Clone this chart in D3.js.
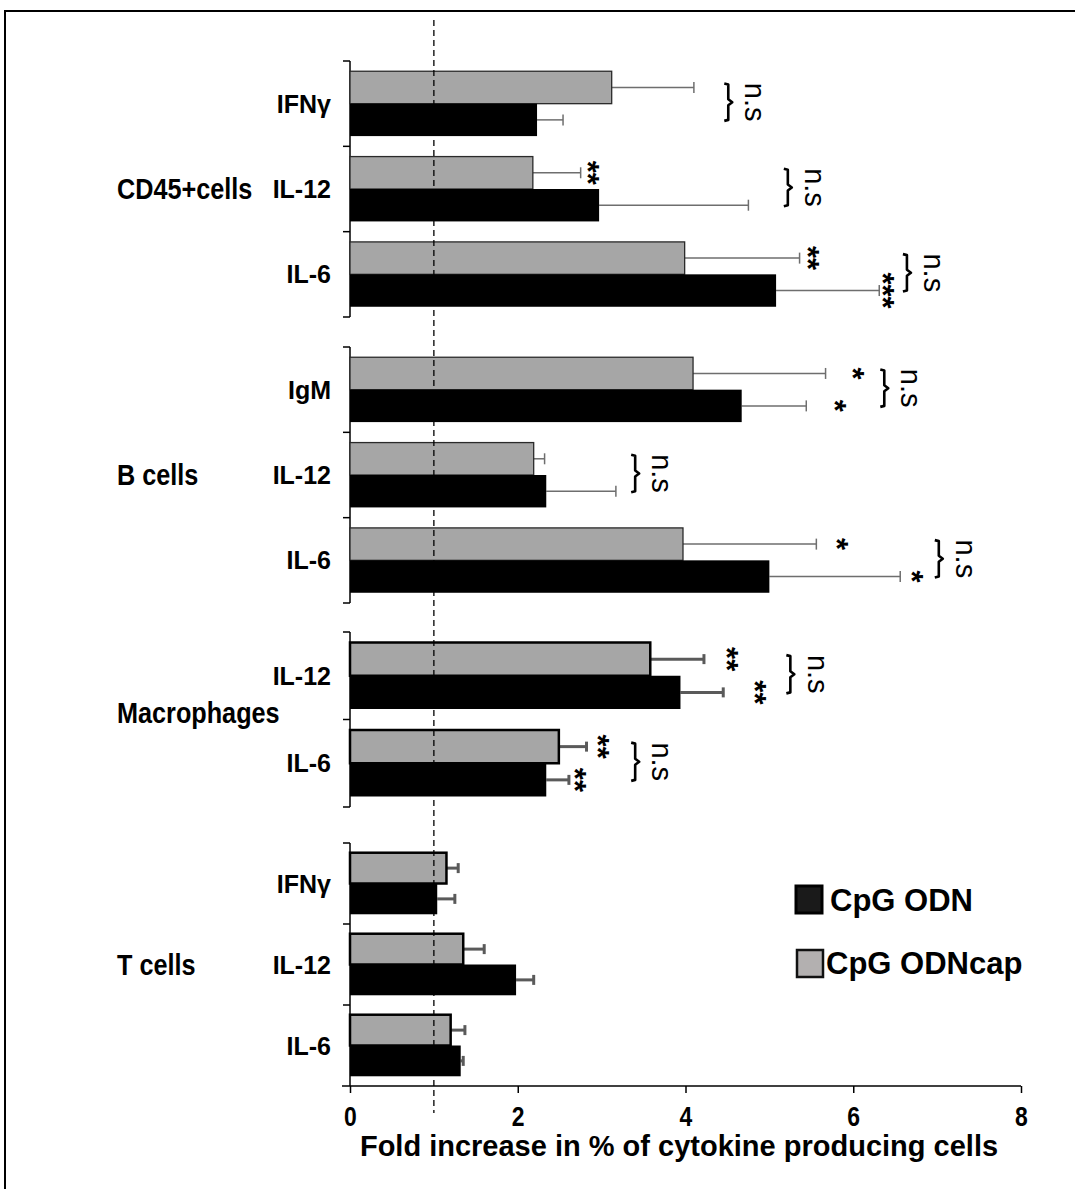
<!DOCTYPE html>
<html>
<head>
<meta charset="utf-8">
<script src="https://cdn.jsdelivr.net/npm/d3@7"></script>
<style>
  body { margin: 0; background: #fff; }
  svg { display: block; }
  text { font-family: "Liberation Sans", Arial, sans-serif; }
</style>
</head>
<body>
<svg id="chart" width="1075" height="1189"></svg>
<script>
// Cell populations and the cytokines measured in each
const groups = ["CD45+cells", "B cells", "Macrophages", "T cells"];
const cytokines = [
  ["IFNγ", "IL-12", "IL-6"],
  ["IgM", "IL-12", "IL-6"],
  ["IL-12", "IL-6"],
  ["IFNγ", "IL-12", "IL-6"]
];

// Fold increase, CpG ODN (black bars) and its error
const odn    = [[2.23, 2.97, 5.08], [4.67, 2.34, 5.00], [3.94, 2.34], [1.04, 1.98, 1.32]];
const odnErr = [[0.31, 1.78, 1.23], [0.77, 0.83, 1.56], [0.51, 0.27], [0.21, 0.21, 0.03]];

// Fold increase, CpG ODNcap (grey bars) and its error
const odnCap    = [[3.12, 2.18, 3.99], [4.09, 2.19, 3.97], [3.58, 2.49], [1.15, 1.35, 1.20]];
const odnCapErr = [[0.98, 0.57, 1.37], [1.58, 0.13, 1.59], [0.64, 0.33], [0.14, 0.25, 0.17]];

const xTicks = [0, 2, 4, 6, 8];
const seriesNames = ["CpG ODN", "CpG ODNcap"];

// Significance stars: [group, cytokine, series ("cap"/"odn"), label, position in fold units]
const stars = [
  [0, 1, "cap", "**", 2.92],
  [0, 2, "cap", "**", 5.54],
  [0, 2, "odn", "***", 6.44],
  [1, 0, "cap", "*", 6.08],
  [1, 0, "odn", "*", 5.87],
  [1, 2, "cap", "*", 5.89],
  [1, 2, "odn", "*", 6.78],
  [2, 0, "cap", "**", 4.58],
  [2, 0, "odn", "**", 4.91],
  [2, 1, "cap", "**", 3.04],
  [2, 1, "odn", "**", 2.77]
];

// ODN vs ODNcap comparisons: [group, cytokine, brace position in fold units]
const comparisons = [
  [0, 0, 4.51], [0, 1, 5.22], [0, 2, 6.64],
  [1, 0, 6.37], [1, 1, 3.40], [1, 2, 7.02],
  [2, 0, 5.25], [2, 1, 3.40]
];
const comparisonLabel = "n.s";

// ---- layout ----
const svg = d3.select("#chart");
const panelRanges = [[61, 317], [347, 603], [632, 807], [843, 1086]];
const heavy = [false, false, true, true];
const axisY = 1086;

const x = d3.scaleLinear().domain([0, 8]).range([350, 1021]);

const greyFill = "#a6a6a6";

// outer frame
svg.append("rect").attr("x", 5).attr("y", 11).attr("width", 1100).attr("height", 1200)
  .attr("fill", "none").attr("stroke", "#000").attr("stroke-width", 2);

const bandScales = [];

groups.forEach((g, gi) => {
  const y = d3.scaleBand().domain(cytokines[gi]).range(panelRanges[gi])
    .paddingInner(0.24).paddingOuter(0.12);
  bandScales.push(y);
  const sub = d3.scaleBand().domain(["cap", "odn"]).range([0, y.bandwidth()]);
  const pg = svg.append("g");
  const thick = heavy[gi];

  // y axis line with boundary ticks
  const [y0, y1] = panelRanges[gi];
  pg.append("line").attr("x1", x(0)).attr("x2", x(0)).attr("y1", y0).attr("y2", y1)
    .attr("stroke", "#000").attr("stroke-width", 1.5);
  const bounds = cytokines[gi].map(c => y(c) - y.step() * 0.12).concat([y1]);
  bounds.forEach((b, k) => {
    if (gi === 3 && k === bounds.length - 1) return;
    pg.append("line").attr("x1", x(0) - 7).attr("x2", x(0)).attr("y1", b).attr("y2", b)
      .attr("stroke", "#000").attr("stroke-width", 1.5);
  });

  const rows = cytokines[gi].map((c, i) => ({
    c, cap: odnCap[gi][i], capErr: odnCapErr[gi][i], odn: odn[gi][i], odnErr: odnErr[gi][i]
  }));

  const errColor = thick ? "#5a5a5a" : "#6e6e6e";
  const errWidth = thick ? 3 : 1.5;
  const capHalf = thick ? 5 : 5.5;

  rows.forEach(r => {
    // error bars (drawn first so the bars cover their start)
    [["cap", r.cap, r.capErr], ["odn", r.odn, r.odnErr]].forEach(([s, v, e]) => {
      const cy = y(r.c) + sub(s) + sub.bandwidth() / 2;
      pg.append("line").attr("x1", x(v)).attr("x2", x(v + e)).attr("y1", cy).attr("y2", cy)
        .attr("stroke", errColor).attr("stroke-width", errWidth);
      pg.append("line").attr("x1", x(v + e)).attr("x2", x(v + e))
        .attr("y1", cy - capHalf).attr("y2", cy + capHalf)
        .attr("stroke", errColor).attr("stroke-width", errWidth);
    });
    // grey bar
    pg.append("rect").attr("x", x(0)).attr("y", y(r.c) + sub("cap"))
      .attr("width", x(r.cap) - x(0)).attr("height", sub.bandwidth())
      .attr("fill", greyFill).attr("stroke", thick ? "#000" : "#2a2a2a")
      .attr("stroke-width", thick ? 2.5 : 1.3);
    // black bar
    pg.append("rect").attr("x", x(0)).attr("y", y(r.c) + sub("odn"))
      .attr("width", x(r.odn) - x(0)).attr("height", sub.bandwidth())
      .attr("fill", "#000");
    // cytokine label
    pg.append("text").attr("x", 331).attr("y", y(r.c) + y.bandwidth() / 2)
      .attr("text-anchor", "end").attr("dy", "0.36em")
      .attr("font-size", 25).attr("font-weight", "bold").text(r.c);
  });

  // group label (slightly condensed bold face)
  const mid = (y0 + y1) / 2 - (gi === 2 ? 7 : 0);
  pg.append("text").attr("transform", `translate(117,${mid}) scale(0.87,1)`)
    .attr("dy", "0.36em")
    .attr("font-size", 29).attr("font-weight", "bold").text(g);
});

// reference line at a fold increase of 1
svg.append("line").attr("x1", x(1)).attr("x2", x(1)).attr("y1", 20).attr("y2", 1113)
  .attr("stroke", "#000").attr("stroke-width", 1.3).attr("stroke-dasharray", "6,4");

// x axis
const xAxis = svg.append("g").attr("transform", `translate(0,${axisY})`)
  .call(d3.axisBottom(x).tickValues(xTicks).tickSize(7).tickSizeOuter(0).tickFormat(d3.format("d")));
xAxis.select(".domain").remove();
xAxis.append("line").attr("x1", x(0) - 8).attr("x2", x(8)).attr("y1", 0).attr("y2", 0)
  .attr("stroke", "#000").attr("stroke-width", 1.5);
xAxis.selectAll(".tick line").attr("stroke", "#000").attr("stroke-width", 1.5);
xAxis.selectAll(".tick text").attr("y", 0).attr("dy", 0)
  .attr("transform", "translate(0,40) scale(0.85,1)")
  .attr("font-size", 27).attr("font-weight", "bold")
  .attr("fill", "#000").attr("font-family", "'Liberation Sans', Arial, sans-serif");

svg.append("text").attr("x", 679).attr("y", 1156).attr("text-anchor", "middle")
  .attr("font-size", 29).attr("font-weight", "bold").text("Fold increase in % of cytokine producing cells");

// significance stars, rotated with the comparison labels
stars.forEach(([gi, ci, s, label, pos]) => {
  const y = bandScales[gi];
  const sub = y.bandwidth() / 2;
  const cy = y(cytokines[gi][ci]) + (s === "cap" ? sub / 2 : sub * 1.5);
  svg.append("text").attr("transform", `translate(${x(pos)},${cy}) rotate(90)`)
    .attr("text-anchor", "middle").attr("dy", "0.58em")
    .attr("font-size", 31).attr("font-weight", "bold").text(label);
});

// braces and n.s labels
comparisons.forEach(([gi, ci, pos]) => {
  const y = bandScales[gi];
  const half = y.bandwidth() / 2;
  const top = y(cytokines[gi][ci]) + half / 2 - 4;
  const bot = y(cytokines[gi][ci]) + half * 1.5 + 1;
  const mid = (top + bot) / 2;
  const bx = x(pos);
  const p = d3.path();
  p.moveTo(bx - 4, top);
  p.lineTo(bx, top + 1);
  p.lineTo(bx, mid - 3);
  p.lineTo(bx + 4, mid);
  p.lineTo(bx, mid + 3);
  p.lineTo(bx, bot - 1);
  p.lineTo(bx - 4, bot);
  svg.append("path").attr("d", p.toString()).attr("fill", "none")
    .attr("stroke", "#000").attr("stroke-width", 2.6).attr("stroke-linejoin", "round");
  svg.append("text").attr("transform", `translate(${bx + 25},${mid}) rotate(90)`)
    .attr("text-anchor", "middle").attr("dy", "0.27em")
    .attr("font-size", 29).text(comparisonLabel);
});

// legend
const legend = svg.append("g");
const legendItems = [
  { name: seriesNames[0], fill: "#1a1a1a", stroke: "#000", sw: 3, bx: 796, by: 886, tx: 830, ty: 911 },
  { name: seriesNames[1], fill: "#b3b0b0", stroke: "#111", sw: 2.5, bx: 797, by: 950, tx: 826, ty: 974 }
];
legendItems.forEach(d => {
  legend.append("rect").attr("x", d.bx).attr("y", d.by).attr("width", 26).attr("height", 27)
    .attr("fill", d.fill).attr("stroke", d.stroke).attr("stroke-width", d.sw);
  legend.append("text").attr("x", d.tx).attr("y", d.ty).attr("font-size", 31)
    .attr("font-weight", "bold").text(d.name);
});
</script>
</body>
</html>
